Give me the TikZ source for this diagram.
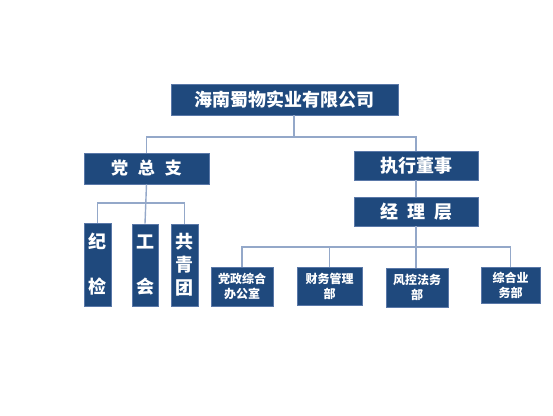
\documentclass[tikz,border=0pt]{standalone}
\usepackage{fontspec}
\newfontfamily\cjk{Noto Sans CJK SC}
\definecolor{boxblue}{HTML}{1F497D}
\definecolor{boxedge}{HTML}{5A78A8}
\definecolor{linec}{HTML}{94A8C9}
\begin{document}
\begin{tikzpicture}[x=1pt,y=-1pt,
  box/.style={rectangle,fill=boxblue,draw=boxedge,line width=0.6pt,text=white,inner sep=0pt,align=center,font=\cjk\bfseries},
  conn/.style={draw=linec,line width=1.4pt}]
\useasboundingbox (0,0) rectangle (553,415);
\node[box,minimum width=227pt,minimum height=31pt,font=\cjk\bfseries\fontsize{18}{20}\selectfont] (top) at (284.5,99.5) {海南蜀物实业有限公司};
\node[box,minimum width=125pt,minimum height=31pt,font=\cjk\bfseries\fontsize{17}{20}\selectfont] (party) at (146.5,168.5) {党\hspace{10pt}总\hspace{10pt}支};
\node[box,minimum width=27pt,minimum height=83pt,font=\cjk\bfseries\fontsize{18}{45}\selectfont] (jj) at (97.5,264.5) {纪\\检};
\node[box,minimum width=26pt,minimum height=82pt,font=\cjk\bfseries\fontsize{18}{45}\selectfont] (gh) at (145,265) {工\\会};
\node[box,minimum width=27pt,minimum height=82pt,font=\cjk\bfseries\fontsize{18}{23}\selectfont] (gqt) at (184.5,265) {共\\青\\团};
\node[box,minimum width=124pt,minimum height=29pt,font=\cjk\bfseries\fontsize{18}{20}\selectfont] (exec) at (416,165.5) {执行董事};
\node[box,minimum width=124pt,minimum height=29pt,font=\cjk\bfseries\fontsize{18}{20}\selectfont] (mgr) at (416,211.5) {经\hspace{9pt}理\hspace{9pt}层};
\node[box,minimum width=62pt,minimum height=39pt,font=\cjk\bfseries\fontsize{12}{15}\selectfont] (dz) at (242,286.5) {党政综合\\办公室};
\node[box,minimum width=65pt,minimum height=38pt,font=\cjk\bfseries\fontsize{12}{15}\selectfont] (cw) at (329.5,286) {财务管理\\部};
\node[box,minimum width=62pt,minimum height=39pt,font=\cjk\bfseries\fontsize{12}{15}\selectfont] (fk) at (417,287.5) {风控法务\\部};
\node[box,minimum width=59pt,minimum height=36pt,font=\cjk\bfseries\fontsize{12}{15}\selectfont] (zh) at (510.5,285) {综合业\\务部};
\coordinate (j1) at (294,137);
\coordinate (j2) at (146,203);
\coordinate (j3) at (416,247);
\draw[conn] (top.south -| j1) -- (j1);
\draw[conn] (party.north) |- (j1) -| (exec.north);
\draw[conn] (party.south) -- (gh.north);
\draw[conn] (jj.north) |- (j2) -| (gqt.north);
\draw[conn] (exec.south) -- (mgr.north);
\draw[conn] (mgr.south) -- (mgr.south |- fk.north);
\draw[conn] (dz.north) |- (j3) -| (zh.north);
\draw[conn] (cw.north) -- (cw.north |- j3);
\end{tikzpicture}
\end{document}
